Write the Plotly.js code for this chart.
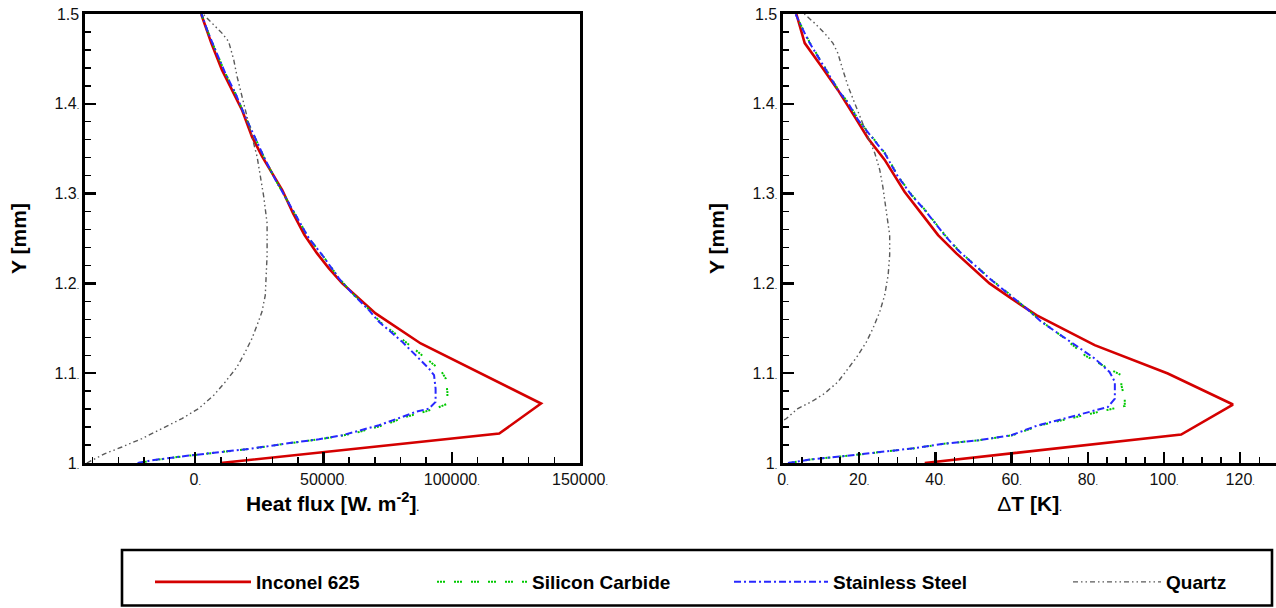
<!DOCTYPE html>
<html>
<head>
<meta charset="utf-8">
<script src="https://cdn.plot.ly/plotly-3.0.1.min.js"></script>
<style>html,body{margin:0;padding:0;background:#fff;}#chart{width:1276px;height:608px;}</style>
</head>
<body>
<div id="chart"></div>
<script>
// ---------- DATA ----------
const seriesNames = ['Inconel 625', 'Silicon Carbide', 'Stainless Steel', 'Quartz'];

// Left panel: heat flux [W m^-2] vs Y [mm]
const inconelQY = [1.0, 1.0328, 1.0662, 1.1, 1.1331, 1.1666, 1.1833, 1.2, 1.2167, 1.2334, 1.2538, 1.2783, 1.304, 1.3226, 1.3411, 1.3634, 1.3932, 1.4155, 1.4378, 1.4676, 1.5];
const inconelQ  = [9800, 118500, 134800, 111100, 87900, 70300, 63800, 57300, 52100, 47500, 42600, 38100, 33900, 30000, 26100, 22100, 18200, 14300, 10400, 6250, 2300];

const steelQY = [1.0, 1.003, 1.0078, 1.0116, 1.0161, 1.0216, 1.0264, 1.0309, 1.0365, 1.042, 1.0513, 1.0569, 1.0606, 1.068, 1.0829, 1.0978, 1.1052, 1.122, 1.1349, 1.1461, 1.1572, 1.1702, 1.1889, 1.2056, 1.2316, 1.2502, 1.2761, 1.2965, 1.3152, 1.3375, 1.3616, 1.3857, 1.4118, 1.4341, 1.4601, 1.4824, 1.5];
const steelQ  = [-22500, -16900, -3900, 9100, 22100, 35200, 48200, 57300, 65100, 71600, 80700, 85900, 91100, 93700, 93700, 93100, 91100, 85300, 80700, 76200, 71600, 67700, 61200, 56000, 49500, 44300, 39100, 35200, 31300, 27300, 23400, 19500, 15600, 11700, 7800, 4600, 2400];

const sicQY = [1.0, 1.003, 1.0078, 1.0116, 1.0161, 1.0216, 1.0264, 1.0309, 1.0346, 1.0428, 1.0513, 1.0606, 1.066, 1.079, 1.094, 1.1033, 1.1164, 1.1331, 1.1461, 1.1572, 1.1702, 1.1889, 1.2056, 1.2316, 1.2502, 1.2761, 1.2965, 1.3152, 1.3375, 1.3616, 1.3857, 1.4118, 1.4341, 1.4601, 1.4824, 1.5];
const sicQ  = [-22000, -16500, -3700, 9300, 22300, 35400, 48500, 58000, 63800, 74200, 82000, 93700, 98300, 98300, 97650, 95700, 89800, 82700, 77000, 72000, 68000, 61300, 56100, 49500, 44300, 39100, 35200, 31300, 27300, 23400, 19500, 15600, 11700, 7800, 4600, 2400];

const quartzQY = [1.0, 1.003, 1.0105, 1.0178, 1.0272, 1.0383, 1.0495, 1.0606, 1.0755, 1.0903, 1.107, 1.1237, 1.1387, 1.1535, 1.1684, 1.187, 1.2093, 1.2316, 1.2538, 1.2669, 1.2965, 1.3188, 1.3411, 1.3634, 1.3932, 1.408, 1.4303, 1.4489, 1.4693, 1.4787, 1.4898, 1.5];
const quartzQ  = [-42300, -40350, -35200, -28600, -20800, -13000, -5200, 1300, 7200, 11700, 16300, 19500, 22100, 24100, 26000, 27300, 27700, 28000, 28000, 28000, 26700, 25400, 24100, 22100, 19500, 18200, 16300, 15000, 13000, 10400, 6500, 3000];

// Right panel: temperature difference dT [K] vs Y [mm]
const inconelTY = [1.0, 1.0317, 1.0651, 1.0997, 1.1312, 1.1647, 1.1833, 1.2, 1.2334, 1.2538, 1.278, 1.3021, 1.3375, 1.3617, 1.3857, 1.4155, 1.4415, 1.4676, 1.5];
const inconelT  = [37.2, 104.5, 118.1, 101.0, 81.8, 66.5, 59.9, 54.2, 45.5, 40.7, 36.3, 31.9, 26.7, 22.3, 18.8, 14.4, 10.1, 5.7, 3.5];

const steelTY = [1.0, 1.0041, 1.0078, 1.0123, 1.0161, 1.0216, 1.0253, 1.0309, 1.042, 1.0476, 1.0532, 1.0588, 1.0624, 1.0718, 1.0903, 1.1014, 1.1164, 1.1293, 1.1424, 1.1572, 1.1739, 1.1889, 1.2037, 1.2204, 1.2371, 1.2538, 1.2817, 1.2984, 1.3188, 1.3449, 1.3634, 1.382, 1.4007, 1.4155, 1.4341, 1.4526, 1.4676, 1.4824, 1.4935, 1.5];
const steelT  = [1.3, 7.4, 16.2, 24.9, 33.7, 42.4, 51.2, 59.9, 66.9, 72.2, 77.4, 81.8, 85.3, 87.1, 87.1, 85.7, 81.8, 77.4, 73.0, 67.8, 63.4, 59.1, 54.7, 50.3, 45.9, 42.4, 37.2, 33.7, 30.2, 26.7, 23.2, 19.7, 17.1, 14.4, 11.8, 9.2, 7.0, 5.25, 3.9, 3.3];

const sicTY = [1.0, 1.0041, 1.0078, 1.0123, 1.0161, 1.0216, 1.0253, 1.0309, 1.042, 1.05, 1.057, 1.0635, 1.0718, 1.0866, 1.0978, 1.1054, 1.12, 1.139, 1.1572, 1.1739, 1.1889, 1.2037, 1.2204, 1.2371, 1.2538, 1.2817, 1.2984, 1.3188, 1.3449, 1.3634, 1.382, 1.4007, 1.4155, 1.4341, 1.4526, 1.4676, 1.4824, 1.4935, 1.5];
const sicT  = [1.5, 7.6, 16.4, 25.1, 33.9, 42.6, 51.4, 60.2, 67.5, 75.7, 82.7, 89.7, 89.7, 88.8, 88.8, 85.3, 79.2, 73.9, 68.0, 63.5, 59.2, 54.8, 50.4, 46.0, 42.5, 37.3, 33.8, 30.3, 26.8, 23.3, 19.8, 17.2, 14.5, 11.9, 9.3, 7.1, 5.3, 4.0, 3.3];

const quartzTY = [1.048, 1.0495, 1.0606, 1.068, 1.0774, 1.0903, 1.1052, 1.12, 1.1349, 1.1498, 1.1684, 1.187, 1.2093, 1.2316, 1.2538, 1.2817, 1.3077, 1.3263, 1.3449, 1.3634, 1.382, 1.4007, 1.4192, 1.4378, 1.4564, 1.4676, 1.4787, 1.4898, 1.5];
const quartzT  = [0.3, 0.9, 3.9, 7.4, 10.9, 14.4, 17.1, 19.7, 21.9, 23.6, 25.4, 26.7, 27.6, 28.0, 28.0, 27.1, 26.2, 25.4, 24.1, 22.3, 20.6, 18.8, 17.1, 15.7, 14.4, 13.1, 10.9, 8.3, 5.6];

// Tick labels
const yTickVals = [1.0, 1.1, 1.2, 1.3, 1.4, 1.5];
const yTickText = ['1.', '1.1.', '1.2.', '1.3.', '1.4.', '1.5'];
const qTickVals = [0, 50000, 100000, 150000];
const qTickText = ['0.', '50000.', '100000.', '150000.'];
const tTickVals = [0, 20, 40, 60, 80, 100, 120];
const tTickText = ['0.', '20.', '40.', '60.', '80.', '100.', '120.'];

// ---------- STYLE ----------
const W = 1276, H = 608;
const dot = s => s.replace(/\.$/, '<span style="font-size:9px">.</span>');
const styles = [
  {color: 'rgb(212,0,0)', width: 2.6, dash: 'solid'},
  {color: 'rgb(0,200,0)', width: 2, dash: '2px,1px,2px,1px,2px,9px'},
  {color: 'rgb(40,40,255)', width: 2, dash: '7px,3px,2px,3px'},
  {color: 'rgb(90,90,90)', width: 1.4, dash: '5px,3px,1.5px,3px,1.5px,3px'}
];
const legendIds = ['legend', 'legend2', 'legend3', 'legend4'];

const leftData = [[inconelQ, inconelQY], [sicQ, sicQY], [steelQ, steelQY], [quartzQ, quartzQY]];
const rightData = [[inconelT, inconelTY], [sicT, sicTY], [steelT, steelTY], [quartzT, quartzTY]];

const traces = [];
leftData.forEach((d, i) => traces.push({
  x: d[0], y: d[1], xaxis: 'x', yaxis: 'y', mode: 'lines', name: seriesNames[i],
  line: styles[i], legend: legendIds[i], legendgroup: 'g' + i, showlegend: true, hoverinfo: 'skip'
}));
rightData.forEach((d, i) => traces.push({
  x: d[0], y: d[1], xaxis: 'x2', yaxis: 'y2', mode: 'lines', name: seriesNames[i],
  line: styles[i], legendgroup: 'g' + i, showlegend: false, hoverinfo: 'skip'
}));

const tickFont = {family: 'Liberation Sans, Arial, sans-serif', size: 16, color: '#111'};
const titleFont = {family: 'Liberation Sans, Arial, sans-serif', size: 21, color: '#000', weight: 'bold'};
const yDom = [1 - 463 / H, 1 - 14 / H];

const axBase = {
  showgrid: false, zeroline: false, showline: true, linecolor: '#000', linewidth: 2.6,
  ticks: 'inside', ticklen: 11, tickwidth: 2.4, tickcolor: '#000', tickfont: tickFont,
  tickmode: 'array', automargin: false
};
const yaxBase = Object.assign({}, axBase, {
  range: [1.0, 1.5], tickvals: yTickVals, ticktext: yTickText.map(dot), domain: yDom,
  minor: {dtick: 0.02, tick0: 1.0, ticks: 'inside', ticklen: 6, tickwidth: 1.4, tickcolor: '#000'},
  title: {text: 'Y [mm]', font: titleFont, standoff: 22}
});

const legendBase = {
  orientation: 'h', xanchor: 'left', yanchor: 'middle', y: 1 - 582 / H,
  bgcolor: 'rgba(0,0,0,0)', borderwidth: 0,
  font: {family: 'Liberation Sans, Arial, sans-serif', size: 19, color: '#000', weight: 'bold'}
};

const layout = {
  width: W, height: H, margin: {l: 0, r: 0, t: 0, b: 0},
  paper_bgcolor: '#fff', plot_bgcolor: '#fff',
  xaxis: Object.assign({}, axBase, {
    domain: [85 / W, 580 / W], range: [-43000, 150000], anchor: 'y', mirror: true,
    tickvals: qTickVals, ticktext: qTickText.map(dot),
    minor: {dtick: 10000, tick0: 0, ticks: 'inside', ticklen: 6, tickwidth: 1.4, tickcolor: '#000'},
    title: {text: 'Heat flux [W. m<sup>-2</sup>]<span style="font-size:9px">.</span>', font: titleFont, standoff: 10}
  }),
  yaxis: Object.assign({}, yaxBase, {anchor: 'x', mirror: true}),
  xaxis2: Object.assign({}, axBase, {
    domain: [783 / W, 1], range: [0, (1276 - 783) / 3.81], anchor: 'y2', mirror: true,
    tickvals: tTickVals, ticktext: tTickText.map(dot),
    minor: {dtick: 5, tick0: 0, ticks: 'inside', ticklen: 6, tickwidth: 1.4, tickcolor: '#000'},
    title: {text: '<span style="font-weight:normal">Δ</span>T [K]<span style="font-size:9px">.</span>', font: titleFont, standoff: 10}
  }),
  yaxis2: Object.assign({}, yaxBase, {anchor: 'x2', mirror: false}),
  legend: Object.assign({}, legendBase, {x: 150 / W, itemwidth: 96}),
  legend2: Object.assign({}, legendBase, {x: 432 / W, itemwidth: 90}),
  legend3: Object.assign({}, legendBase, {x: 729 / W, itemwidth: 94}),
  legend4: Object.assign({}, legendBase, {x: 1068 / W, itemwidth: 88}),
  shapes: [{
    type: 'rect', xref: 'paper', yref: 'paper',
    x0: 122 / W, x1: 1272 / W, y0: 1 - 605.5 / H, y1: 1 - 550 / H,
    line: {color: '#000', width: 2.6}, fillcolor: 'rgba(0,0,0,0)'
  }],
  showlegend: true
};

Plotly.newPlot('chart', traces, layout, {staticPlot: true, displayModeBar: false});
</script>
</body>
</html>
